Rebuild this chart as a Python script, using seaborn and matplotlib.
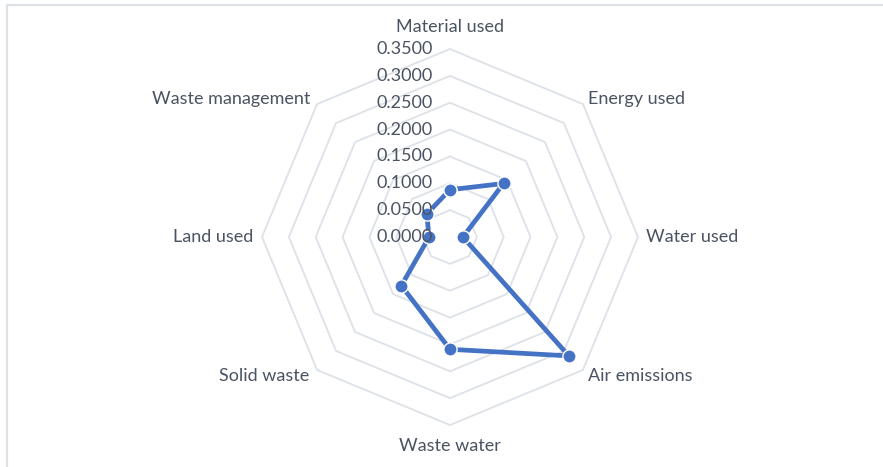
import numpy as np
import pandas as pd
import matplotlib
matplotlib.use("Agg")
import matplotlib.pyplot as plt
from matplotlib.lines import Line2D
import seaborn as sns

# Environmental impact indicators (clockwise from the top)
categories = ["Material used", "Energy used", "Water used", "Air emissions",
              "Waste water", "Solid waste", "Land used", "Waste management"]
values = [0.088, 0.141, 0.024, 0.313, 0.209, 0.128, 0.039, 0.061]
ring_levels = [0.05, 0.10, 0.15, 0.20, 0.25, 0.30, 0.35]
tick_values = [0.0, 0.05, 0.10, 0.15, 0.20, 0.25, 0.30, 0.35]
tick_labels = ["0.0000", "0.0500", "0.1000", "0.1500", "0.2000",
               "0.2500", "0.3000", "0.3500"]

sns.set_theme(style="white")
plt.rcParams["font.family"] = ["Lato", "DejaVu Sans"]

TEXT = "#4a5361"
GRID = "#dde1e8"
LINE = "#4472C4"

n = len(categories)
angles = np.linspace(0, 2 * np.pi, n, endpoint=False)

fig = plt.figure(figsize=(8.83, 4.67), dpi=100)
fig.patch.set_facecolor("white")
ax = fig.add_axes([0.2967, 0.0899, 0.4258, 0.8051], projection="polar")
ax.set_theta_zero_location("N")
ax.set_theta_direction(-1)
ax.set_ylim(0, 0.35)
ax.grid(False)
ax.spines["polar"].set_visible(False)
ax.set_xticks([])
ax.set_yticks([])
ax.set_facecolor("none")

# Octagonal grid rings
ring_theta = np.append(angles, angles[0])
for lvl in ring_levels:
    ax.plot(ring_theta, [lvl] * len(ring_theta), color=GRID, lw=1.3, zorder=1,
            clip_on=False)

# Data series (closed polygon)
df = pd.DataFrame({
    "theta": np.append(angles, 2 * np.pi),
    "value": values + [values[0]],
})
sns.lineplot(data=df, x="theta", y="value", ax=ax, sort=False, estimator=None,
             color=LINE, lw=3.4, marker="o", markersize=9.5,
             markerfacecolor=LINE, markeredgecolor="white", markeredgewidth=1.0,
             zorder=3, clip_on=False)
ax.set_xlabel("")
ax.set_ylabel("")

# Radial value labels along the top spoke
for v, s in zip(tick_values, tick_labels):
    ax.annotate(s, xy=(0, v), xytext=(-17, 0), textcoords="offset pixels",
                ha="right", va="center", fontsize=13, color=TEXT, zorder=4)

# Category labels around the outer ring
offsets = [(0, 14, "center", "bottom"), (5, 5, "left", "center"),
           (8, 0, "left", "center"), (5, -6, "left", "center"),
           (0, -13, "center", "top"), (-8, -6, "right", "center"),
           (-9, 0, "right", "center"), (-7, 5, "right", "center")]
for ang, cat, (dx, dy, ha, va) in zip(angles, categories, offsets):
    ax.annotate(cat, xy=(ang, 0.35), xytext=(dx, dy), textcoords="offset pixels",
                ha=ha, va=va, fontsize=13, color=TEXT)

# Chart frame edges
fig.add_artist(Line2D([7 / 883, 1.0], [1 - 5 / 467, 1 - 5 / 467],
                      transform=fig.transFigure, color=GRID, lw=1.6))
fig.add_artist(Line2D([7 / 883, 7 / 883], [0.0, 1 - 5 / 467],
                      transform=fig.transFigure, color=GRID, lw=1.6))

fig.savefig("out.png", dpi=100, facecolor="white")
